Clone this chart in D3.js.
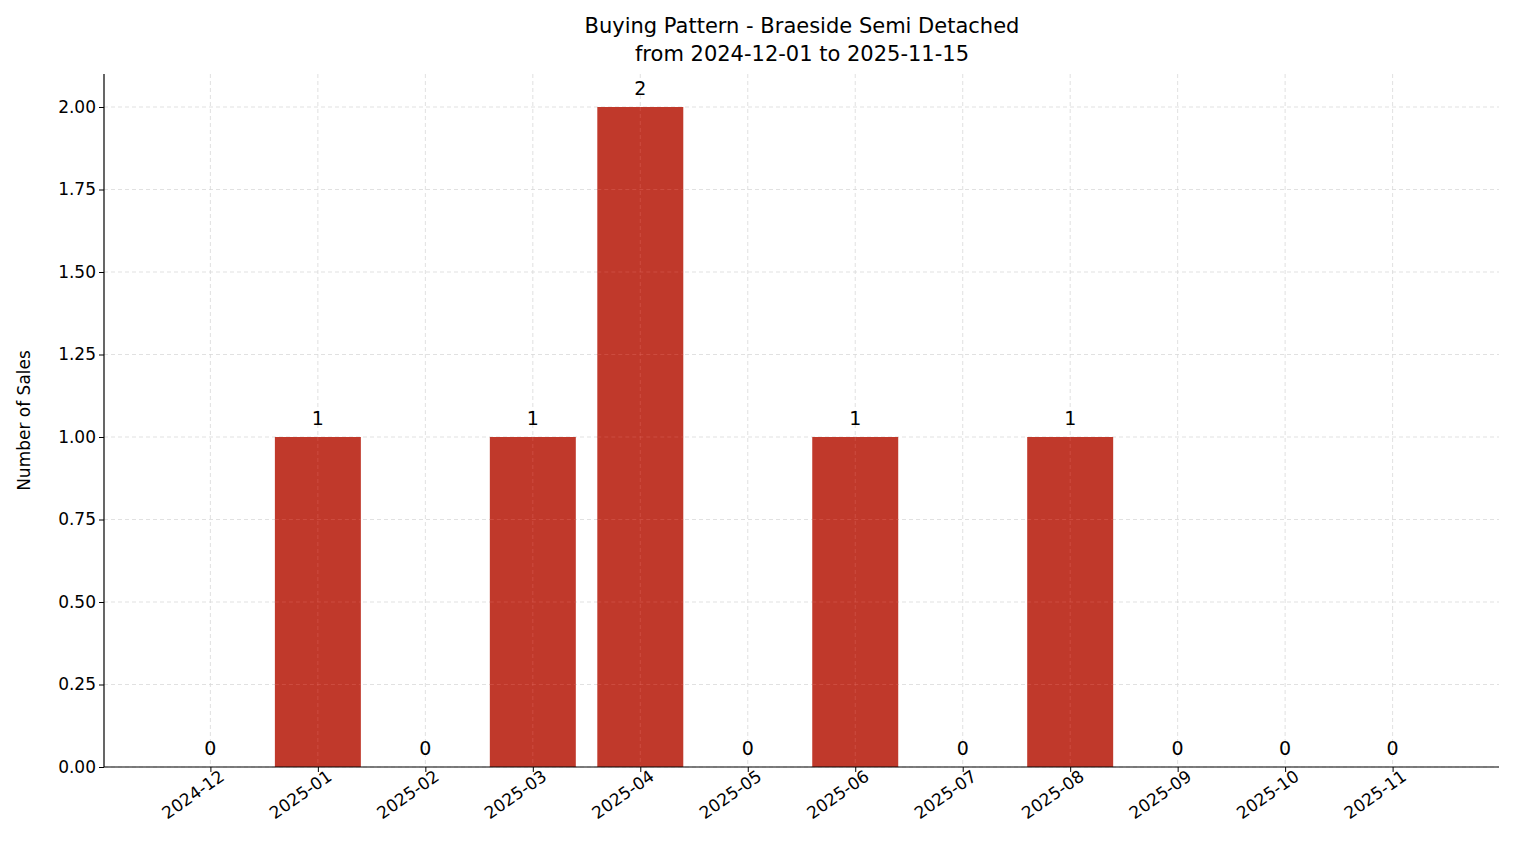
<!DOCTYPE html>
<html><head><meta charset="utf-8">
<script src="https://cdn.jsdelivr.net/npm/d3@7"></script>
<style>body{margin:0;background:#fff}text{font-family:"DejaVu Sans",sans-serif}</style>
</head><body>
<svg id="c" width="1514" height="863"></svg>
<script>
const months = ["2024-12","2025-01","2025-02","2025-03","2025-04","2025-05","2025-06","2025-07","2025-08","2025-09","2025-10","2025-11"];
const sales = [0,1,0,1,2,0,1,0,1,0,0,0];
const yTicks = [0,0.25,0.5,0.75,1,1.25,1.5,1.75,2];

const svg = d3.select("#c");
const L=104,R=1499,T=74,B=767;
const x = d3.scaleLinear().domain([-0.99, months.length-1+0.99]).range([L,R]);
const y = d3.scaleLinear().domain([0,2.1]).range([B,T]);

const grid = svg.append("g").attr("stroke","#d9d9d9").attr("stroke-dasharray","4,3").attr("stroke-width",0.8);
yTicks.forEach(t=>grid.append("line").attr("x1",L).attr("x2",R).attr("y1",y(t)).attr("y2",y(t)));
months.forEach((m,i)=>grid.append("line").attr("x1",x(i)).attr("x2",x(i)).attr("y1",T).attr("y2",B));

svg.append("g").selectAll("rect").data(sales).join("rect")
  .attr("x",(d,i)=>x(i-0.4)).attr("width",(d,i)=>x(i+0.4)-x(i-0.4))
  .attr("y",d=>y(d)).attr("height",d=>B-y(d)).attr("fill","#c0392b");

// re-draw grid lines over bars (matplotlib grid above bars? grid visible over bars)
const grid2 = svg.append("g").attr("stroke","#e06a5e").attr("stroke-opacity",0.5).attr("stroke-dasharray","4,3").attr("stroke-width",0.8);
sales.forEach((d,i)=>{ if(d>0){
  grid2.append("line").attr("x1",x(i)).attr("x2",x(i)).attr("y1",y(d)).attr("y2",B);
  yTicks.filter(t=>t>0&&t<d).forEach(t=>grid2.append("line").attr("x1",x(i-0.4)).attr("x2",x(i+0.4)).attr("y1",y(t)).attr("y2",y(t)));
}});

svg.append("g").selectAll("text").data(sales).join("text")
  .attr("x",(d,i)=>x(i)).attr("y",d=>y(d)-12).attr("text-anchor","middle")
  .attr("font-size",19).text(d=>d);

const ya = svg.append("g").attr("transform",`translate(${L},0)`)
  .call(d3.axisLeft(y).tickValues(yTicks).tickFormat(d3.format(".2f")).tickSize(5).tickSizeOuter(0));
ya.selectAll("text").attr("font-size",17).attr("fill","#000");
const xa = svg.append("g").attr("transform",`translate(0,${B})`)
  .call(d3.axisBottom(x).tickValues(months.map((m,i)=>i)).tickFormat(i=>months[i]).tickSize(5).tickSizeOuter(0));
xa.selectAll("text").attr("font-size",17).attr("fill","#000")
  .attr("text-anchor","end").attr("dx","0.3em").attr("dy","0.6em").attr("transform","rotate(-35)");
[ya,xa].forEach(a=>{a.select(".domain").attr("stroke","#000").attr("stroke-width",1.2);a.selectAll(".tick line").attr("stroke","#000");});
ya.select(".domain").attr("d",`M0,${B}V${T}`);
xa.select(".domain").attr("d",`M${L},0H${R}`);

svg.append("text").attr("x",802).attr("y",33).attr("text-anchor","middle").attr("font-size",21).text("Buying Pattern - Braeside Semi Detached");
svg.append("text").attr("x",802).attr("y",61).attr("text-anchor","middle").attr("font-size",21).text("from 2024-12-01 to 2025-11-15");
svg.append("text").attr("transform",`translate(30,${(T+B)/2}) rotate(-90)`).attr("text-anchor","middle").attr("font-size",17).text("Number of Sales");
</script></body></html>
